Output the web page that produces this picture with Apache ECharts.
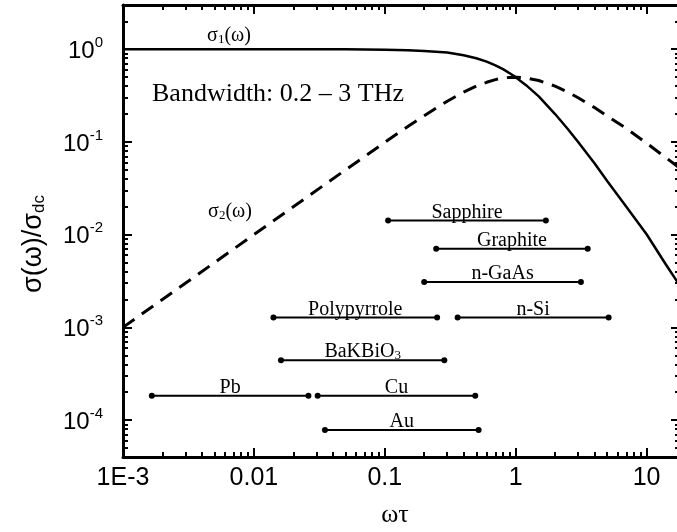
<!DOCTYPE html>
<html>
<head>
<meta charset="utf-8">
<script src="https://cdn.jsdelivr.net/npm/echarts@6/dist/echarts.min.js"></script>
<style>
html,body{margin:0;padding:0;background:#fff;overflow:hidden;}
#chart{width:690px;height:532px;}
</style>
</head>
<body>
<div id="chart"></div>
<script>
// ---- data ----
const omegaTau = [0.001, 0.002, 0.005, 0.01, 0.02, 0.05, 0.1, 0.15, 0.2, 0.3, 0.4, 0.5, 0.6, 0.7, 0.8, 0.9, 1, 1.2, 1.5, 2, 2.5, 3, 4, 5, 7, 10, 14, 18];
const sigma1 = [1, 1, 1, 1, 1, 0.997, 0.99, 0.978, 0.96, 0.92, 0.86, 0.80, 0.735, 0.67, 0.61, 0.55, 0.50, 0.41, 0.31, 0.20, 0.138, 0.10, 0.059, 0.038, 0.020, 0.0101, 0.0048, 0.0028];
const sigma2 = [0.001, 0.002, 0.005, 0.01, 0.02, 0.0499, 0.099, 0.147, 0.192, 0.275, 0.345, 0.40, 0.44, 0.47, 0.49, 0.497, 0.50, 0.49, 0.46, 0.40, 0.345, 0.30, 0.235, 0.19, 0.14, 0.097, 0.068, 0.052];

const materials = ['Sapphire', 'Graphite', 'n-GaAs', 'n-Si', 'Polypyrrole', 'BaKBiO{sub|3}', 'Pb', 'Cu', 'Au'];
const rangeLow  = [0.106, 0.247, 0.200, 0.360, 0.0141, 0.0161, 0.00166, 0.0307, 0.0349];
const rangeHigh = [1.70, 3.55, 3.15, 5.13, 0.251, 0.285, 0.0261, 0.491, 0.521];
const rangeLevel = [0.0142, 0.00705, 0.00309, 0.00128, 0.00128, 0.000443, 0.000183, 0.000183, 0.0000782];

const xTickValues = [0.001, 0.01, 0.1, 1, 10];
const xTickLabels = ['1E-3', '0.01', '0.1', '1', '10'];
const yTickValues = [1e-4, 1e-3, 1e-2, 1e-1, 1];
const yTickExponents = ['-4', '-3', '-2', '-1', '0'];

const xMin = 0.001, xMax = 18, yMin = 4e-5, yMax = 3;

// minor tick positions (2..9 in each decade), in log10 units for helper tick axes
function minorTicksLog(lo, hi) {
  const out = [];
  for (let e = -6; e <= 2; e++) {
    for (let m = 2; m <= 9; m++) {
      const v = m * Math.pow(10, e);
      if (v > lo && v < hi) out.push(Math.log10(v));
    }
  }
  return out;
}
const xMinorLog = minorTicksLog(xMin, xMax);
const yMinorLog = minorTicksLog(yMin, yMax);
const xMajorLog = xTickValues.map(Math.log10);
const yMajorLog = yTickValues.map(Math.log10);

function nearestIndex(vals, v) {
  let best = -1, bd = 1e9;
  vals.forEach((t, i) => { const d = Math.abs(Math.log10(t) - Math.log10(v)); if (d < bd) { bd = d; best = i; } });
  return bd < 1e-6 ? best : -1;
}

const black = '#000';

function xMain() {
  return {
    type: 'log', logBase: 10, min: xMin, max: xMax, position: 'bottom', gridIndex: 0,
    axisLine: { show: true, onZero: false, lineStyle: { color: black, width: 3 } },
    axisTick: { show: false },
    axisLabel: {
      show: true, margin: 9,
      fontFamily: 'Liberation Sans', fontSize: 25, color: black,
      formatter: v => { const i = nearestIndex(xTickValues, v); return i >= 0 ? xTickLabels[i] : ''; }
    },
    splitLine: { show: false }, minorTick: { show: false }
  };
}
function xTicksAx(pos, vals, len, line) {
  return {
    type: 'value', min: Math.log10(xMin), max: Math.log10(xMax), position: pos, gridIndex: 0,
    axisLine: line ? { show: true, onZero: false, lineStyle: { color: black, width: 3 } } : { show: false, onZero: false },
    axisTick: { show: true, inside: true, length: len, lineStyle: { color: black, width: 2 }, customValues: vals },
    axisLabel: { show: false },
    splitLine: { show: false }
  };
}
function yMain() {
  return {
    type: 'log', logBase: 10, min: yMin, max: yMax, position: 'left', gridIndex: 0,
    axisLine: { show: true, onZero: false, lineStyle: { color: black, width: 3 } },
    axisTick: { show: false },
    axisLabel: {
      show: true, margin: 20,
      formatter: v => { const i = nearestIndex(yTickValues, v); return i >= 0 ? '{b|10}{s|' + yTickExponents[i] + '}' : ''; },
      rich: {
        b: { fontFamily: 'Liberation Sans', fontSize: 24, color: black, lineHeight: 28, verticalAlign: 'bottom' },
        s: { fontFamily: 'Liberation Sans', fontSize: 15, color: black, lineHeight: 15, verticalAlign: 'top' }
      }
    },
    splitLine: { show: false }, minorTick: { show: false }
  };
}
function yTicksAx(pos, vals, len, line) {
  return {
    type: 'value', min: Math.log10(yMin), max: Math.log10(yMax), position: pos, gridIndex: 0,
    axisLine: line ? { show: true, onZero: false, lineStyle: { color: black, width: 3 } } : { show: false, onZero: false },
    axisTick: { show: true, inside: true, length: len, lineStyle: { color: black, width: 2 }, customValues: vals },
    axisLabel: { show: false },
    splitLine: { show: false }
  };
}

const series = [];
series.push({
  name: 'sigma1', type: 'line', xAxisIndex: 0, yAxisIndex: 0,
  data: omegaTau.map((x, i) => [x, sigma1[i]]),
  showSymbol: false, symbol: 'none', smooth: false,
  lineStyle: { color: black, width: 2.5 }, z: 3
});
series.push({
  name: 'sigma2', type: 'line', xAxisIndex: 0, yAxisIndex: 0,
  data: omegaTau.map((x, i) => [x, sigma2[i]]),
  showSymbol: false, symbol: 'none', smooth: false,
  lineStyle: { color: black, width: 3, type: [14, 9] }, z: 3
});
materials.forEach((m, i) => {
  series.push({
    name: m, type: 'line', xAxisIndex: 0, yAxisIndex: 0,
    data: [[rangeLow[i], rangeLevel[i]], [rangeHigh[i], rangeLevel[i]]],
    symbol: 'circle', symbolSize: 6, showSymbol: true,
    itemStyle: { color: black, opacity: 1 }, lineStyle: { color: black, width: 2 }, z: 4
  });
});
series.push({
  name: 'labels', type: 'scatter', xAxisIndex: 0, yAxisIndex: 0,
  symbolSize: 0,
  itemStyle: { color: black, opacity: 1 },
  data: materials.map((m, i) => ({ value: [Math.sqrt(rangeLow[i] * rangeHigh[i]), rangeLevel[i]], name: m })),
  label: {
    show: true, position: 'top', distance: -2,
    formatter: p => p.name,
    fontFamily: 'Liberation Serif', fontSize: 20, color: black,
    rich: { sub: { fontFamily: 'Liberation Serif', fontSize: 13, color: black, verticalAlign: 'bottom', padding: [8, 0, 0, 0] } }
  },
  emphasis: { disabled: true },
  z: 5
});

const chart = echarts.init(document.getElementById('chart'), null, { renderer: 'canvas' });
chart.setOption({
  animation: false,
  backgroundColor: '#fff',
  grid: { left: 123, right: 10, top: 5, bottom: 75, containLabel: false },
  xAxis: [xMain(), xTicksAx('bottom', xMinorLog, 5, false), xTicksAx('bottom', xMajorLog, 9, false),
          xTicksAx('top', xMinorLog, 5, true), xTicksAx('top', xMajorLog, 9, false)],
  yAxis: [yMain(), yTicksAx('left', yMinorLog, 5, false), yTicksAx('left', yMajorLog, 9, false),
          yTicksAx('right', yMinorLog, 5, true), yTicksAx('right', yMajorLog, 9, false)],
  series: series,
  graphic: [
    { type: 'text', x: 152, y: 94, style: { text: 'Bandwidth: 0.2 \u2013 3 THz', font: '26px "Liberation Serif"', fill: black, align: 'left', verticalAlign: 'middle' } },
    { type: 'text', x: 229, y: 36, style: { text: '{a|\u03c3}{b|1}{a|(\u03c9)}', fill: black, align: 'center', verticalAlign: 'middle',
      rich: { a: { font: '20px "Liberation Serif"', fill: black }, b: { font: '13px "Liberation Serif"', fill: black, verticalAlign: 'bottom', padding: [8, 0, 0, 0] } } } },
    { type: 'text', x: 230, y: 212, style: { text: '{a|\u03c3}{b|2}{a|(\u03c9)}', fill: black, align: 'center', verticalAlign: 'middle',
      rich: { a: { font: '20px "Liberation Serif"', fill: black }, b: { font: '13px "Liberation Serif"', fill: black, verticalAlign: 'bottom', padding: [8, 0, 0, 0] } } } },
    { type: 'text', x: 395, y: 515, style: { text: '\u03c9\u03c4', font: '26px "Liberation Serif"', fill: black, align: 'center', verticalAlign: 'middle' } },
    { type: 'text', x: 34, y: 244, rotation: Math.PI / 2, style: { text: '{a|\u03c3(\u03c9)/\u03c3}{b|dc}', fill: black, align: 'center', verticalAlign: 'middle',
      rich: { a: { font: '27px "Liberation Sans"', fill: black }, b: { font: '17px "Liberation Sans"', fill: black, verticalAlign: 'bottom', padding: [10, 0, 0, 0] } } } }
  ]
});
</script>
</body>
</html>
